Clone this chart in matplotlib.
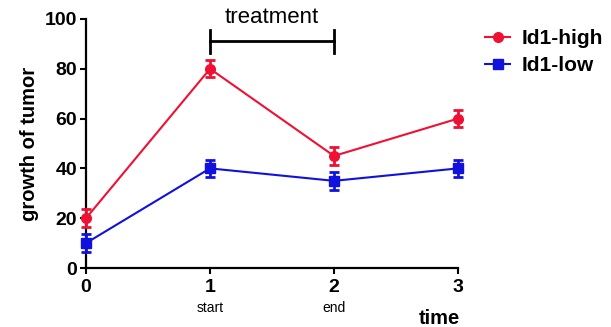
import numpy as np
import matplotlib.pyplot as plt
from matplotlib.lines import Line2D

plt.rcParams['font.family'] = ['Liberation Sans', 'DejaVu Sans']

time = [0, 1, 2, 3]
high = [20, 80, 45, 60]
high_err = [3.5, 3.5, 3.5, 3.5]
low = [10, 40, 35, 40]
low_err = [3.5, 3.5, 3.5, 3.5]
stage_labels = ['', 'start', 'end', '']

red = '#ee1133'
blue = '#1111dd'

fig = plt.figure(figsize=(6.11, 3.27), dpi=100)
ax = fig.add_axes([0.1408, 0.1804, 0.6088, 0.7616])

ax.errorbar(time, high, yerr=high_err, color=red, marker='o', ms=7,
            lw=1.5, capsize=3.5, capthick=2, elinewidth=2,
            clip_on=False, zorder=3)
ax.errorbar(time, low, yerr=low_err, color=blue, marker='s', ms=6.5,
            lw=1.5, capsize=3.5, capthick=2, elinewidth=2,
            clip_on=False, zorder=3)

ax.set_xlim(0, 3)
ax.set_ylim(0, 100)
ax.set_xticks(time)
ax.set_yticks([0, 20, 40, 60, 80, 100])
ax.tick_params(labelsize=14, width=1.5, length=4.5, pad=2)
ax.tick_params(axis='x', pad=3.5)
for lab in ax.get_xticklabels() + ax.get_yticklabels():
    lab.set_fontweight('bold')

for s in ['top', 'right']:
    ax.spines[s].set_visible(False)
for s in ['left', 'bottom']:
    ax.spines[s].set_linewidth(1.6)

for t, lab in zip(time, stage_labels):
    if lab:
        ax.annotate(lab, (t, 0), xytext=(0, -29), textcoords='offset points',
                    ha='center', va='center', fontsize=10)

ax.set_ylabel('growth of tumor', fontsize=14.5, fontweight='bold', labelpad=4)
ax.annotate('time', (3, 0), xytext=(1.5, -36.5), textcoords='offset points',
            ha='right', va='center', fontsize=14.5, fontweight='bold')

# treatment bracket
ax.plot([1, 2], [91, 91], color='black', lw=2, clip_on=False)
ax.plot([1, 1], [86.5, 95.5], color='black', lw=2, clip_on=False)
ax.plot([2, 2], [86.5, 95.5], color='black', lw=2, clip_on=False)
ax.text(1.5, 100.5, 'treatment', ha='center', va='center', fontsize=16)

handles = [Line2D([], [], color=red, marker='o', ms=7, lw=1.5),
           Line2D([], [], color=blue, marker='s', ms=6.5, lw=1.5)]
fig.legend(handles, ['Id1-high', 'Id1-low'], loc='upper left',
           bbox_to_anchor=(485 / 611, 0.911), frameon=False,
           prop={'weight': 'bold', 'size': 15}, handlelength=1.2,
           handletextpad=0.55, labelspacing=0.4, borderpad=0,
           borderaxespad=0)

fig.savefig('out.png', dpi=100)
